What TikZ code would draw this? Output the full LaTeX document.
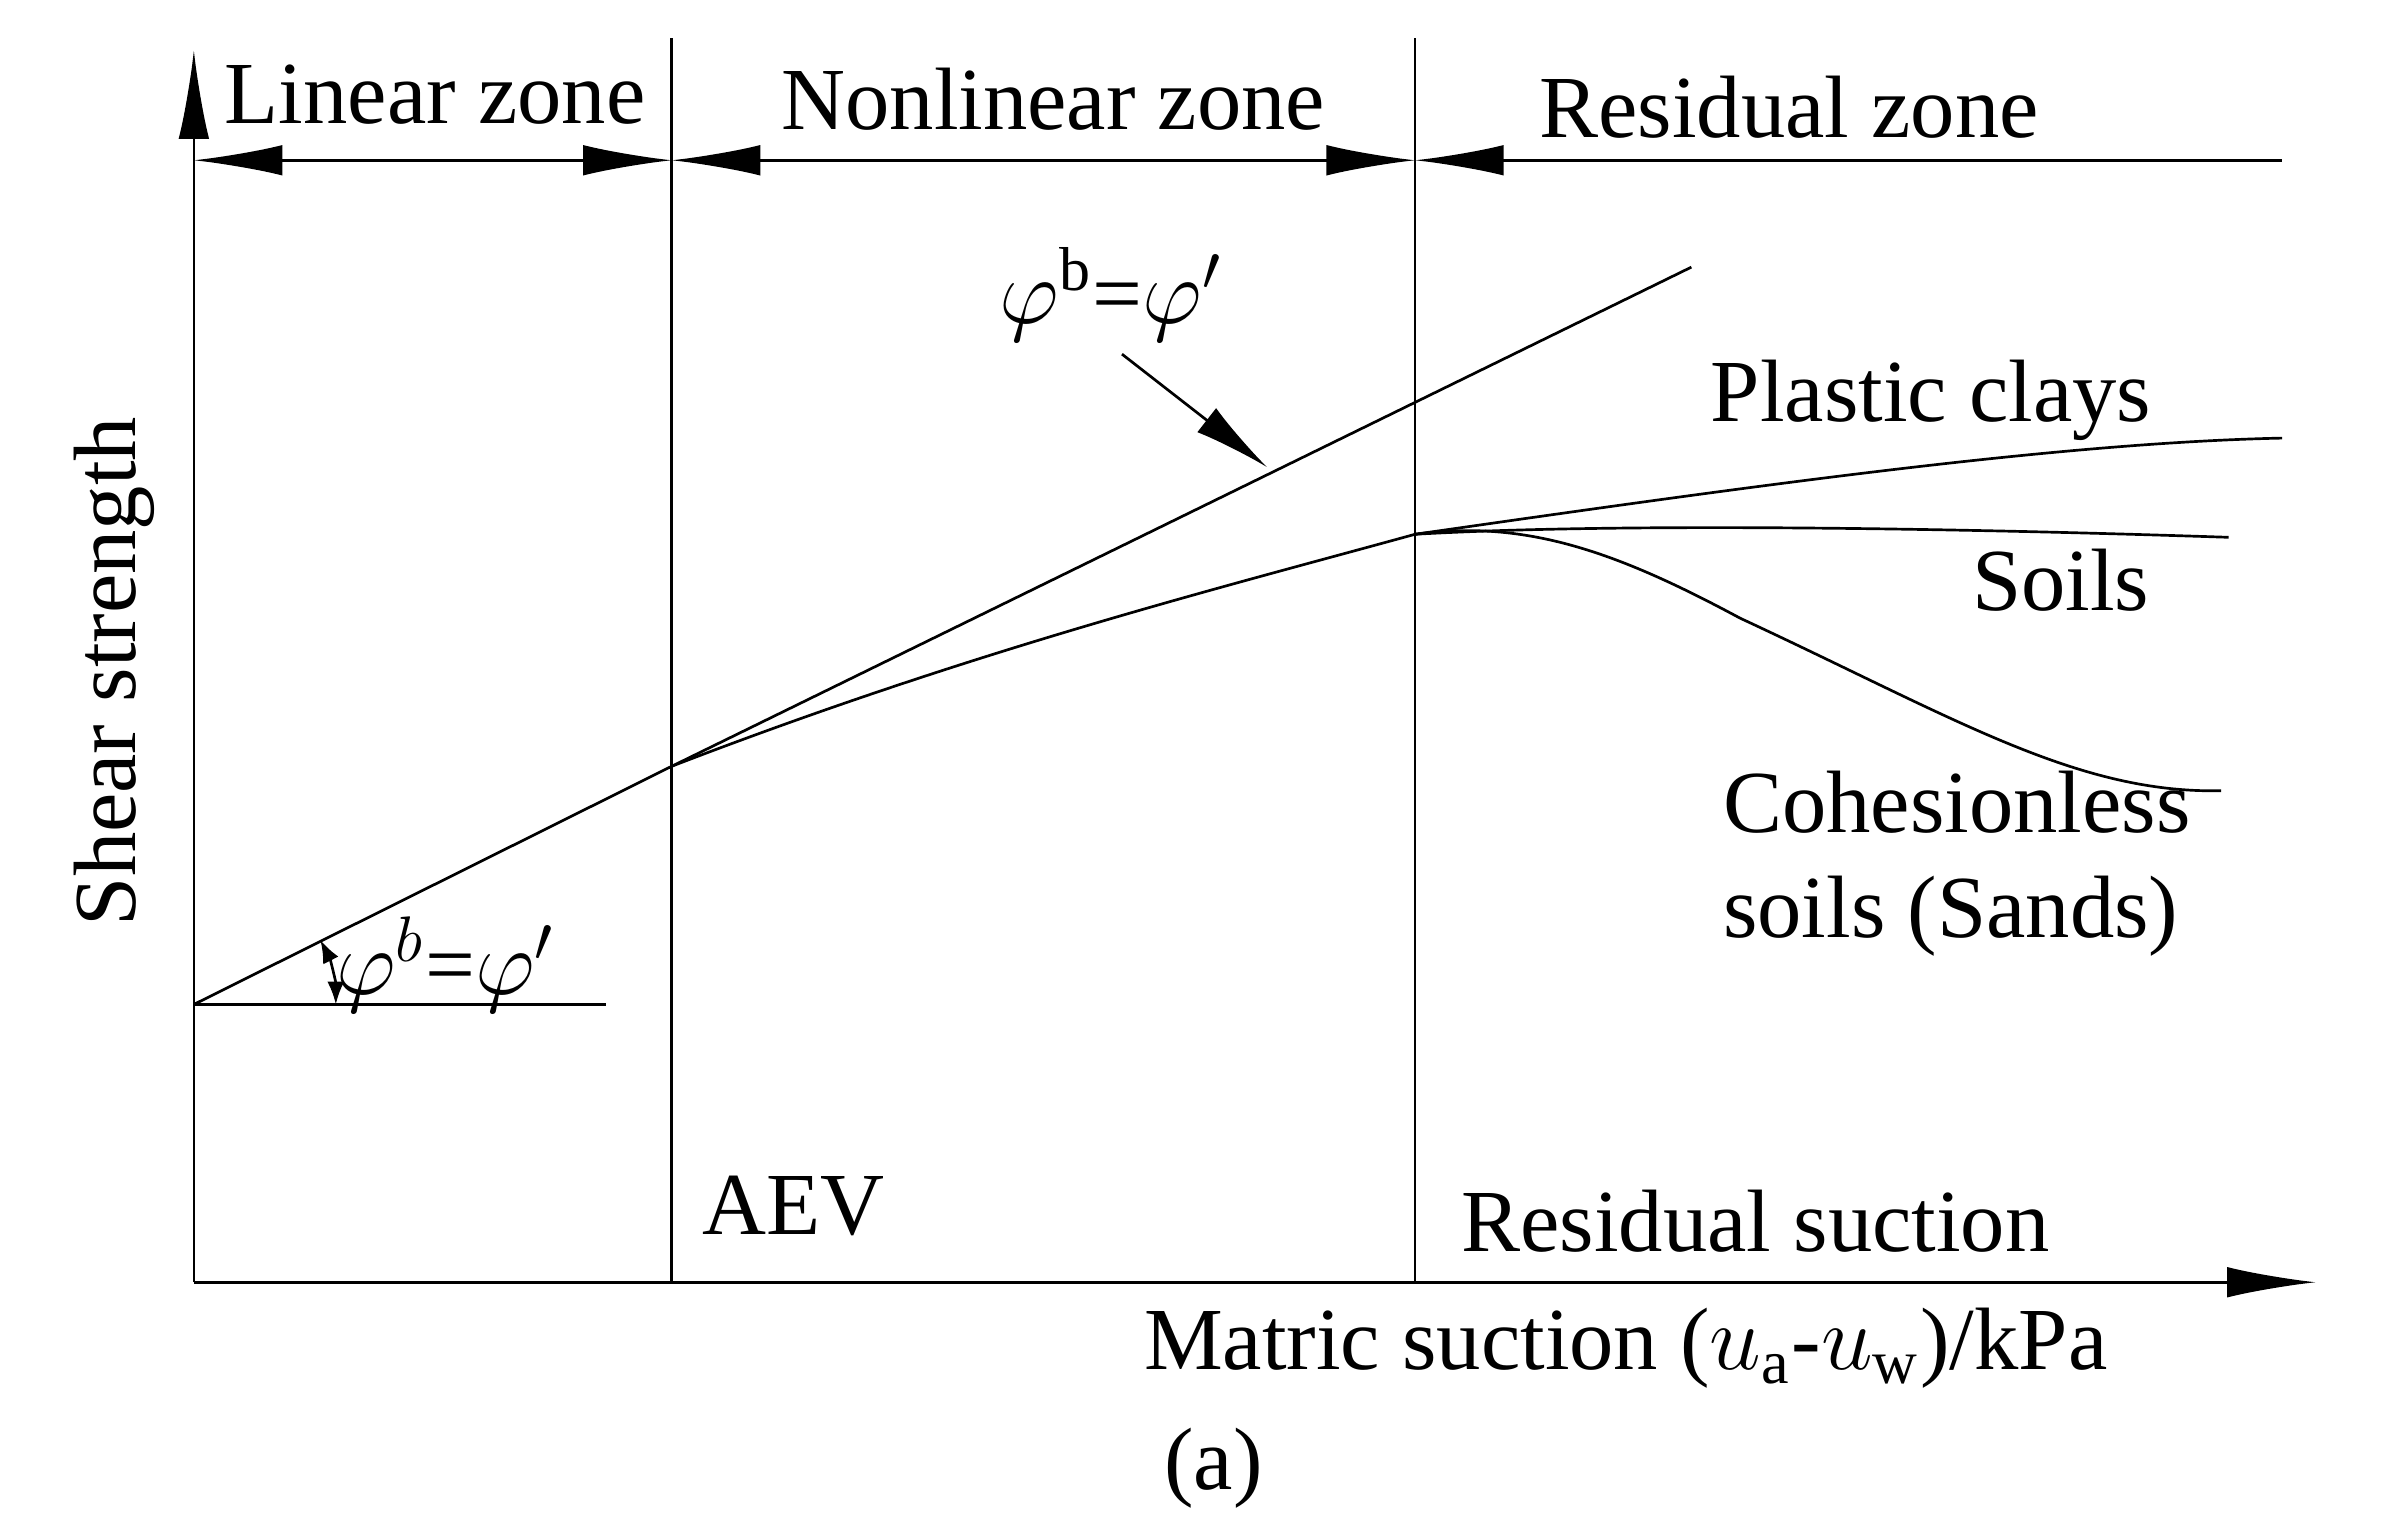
\documentclass[tikz,border=0pt]{standalone}
\usepackage{fontspec}
\setmainfont{Liberation Serif}
\usetikzlibrary{arrows.meta}
\tikzset{
  lbl/.style={font=\fontsize{16.5}{19.5}\selectfont, inner sep=0pt},
  tip/.style={-{Latex[length=5.8mm,width=2mm]}},
  dimline/.style={{Latex[length=5.8mm,width=2mm]}-{Latex[length=5.8mm,width=2mm]}}
}
\begin{document}
\begin{tikzpicture}[x=0.01cm,y=-0.01cm,line width=0.5pt]
	\useasboundingbox (0,0) rectangle (1567,1002.3);

	%Axes
	\coordinate (O) at (127,840);
	\coordinate (ytop) at (127,33);
	\coordinate (xend) at (1517,840);
	\draw[tip] (O) -- (ytop);
	\draw[tip] (O) -- (xend);

	%Zone borders
	\coordinate (aev) at (440,840);
	\coordinate (aevtop) at (440,25);
	\coordinate (res) at (927,840);
	\coordinate (restop) at (927,25);
	\draw (aev) -- (aevtop);
	\draw (res) -- (restop);

	%Zone dimension lines
	\coordinate (d0) at (127,105);
	\coordinate (d1) at (440,105);
	\coordinate (d2) at (927,105);
	\coordinate (d3) at (1495,105);
	\draw[dimline] (d0) -- (d1);
	\draw[dimline] (d1) -- (d2);
	\draw[{Latex[length=5.8mm,width=2mm]}-] (d2) -- (d3);
	\node[lbl] (linz) at (285,62) {Linear zone};
	\node[lbl] (nonz) at (690,65) {Nonlinear zone};
	\node[lbl] (resz) at (1172,70) {Residual zone};

	%Envelope
	\coordinate (c0) at (127,658);
	\coordinate (pa) at (440,502);
	\coordinate (pend) at (1108,175);
	\coordinate (hz) at (397,658);
	\coordinate (pr) at (927,350);
	\draw (c0) -- (pa) -- (pend);
	\draw (c0) -- (hz);
	\draw[{Latex[length=1.5mm]}-{Latex[length=1.5mm]}] (220,658) arc[start angle=0, end angle=-27, radius=93];
	\node[lbl] (ang) at (292,632) {$\varphi^{b}$=$\varphi'$};

	%Nonlinear part
	\draw (pa) .. controls (640,425) and (800,385) .. (pr);

	%Residual curves
	\draw (pr) .. controls (1150,318) and (1350,290) .. (1495,287);
	\draw (pr) .. controls (1050,343) and (1250,345) .. (1460,352);
	\draw (pr) .. controls (1000,340) and (1060,362) .. (1140,405)
	      .. controls (1280,470) and (1360,520) .. (1455,518);

	%Slope label
	\node[lbl] (slope) at (728,193) {$\varphi$\textsuperscript{b}=$\varphi'$};
	\coordinate (slopetip) at (830,306);
	\draw[-{Latex[length=5mm,width=2mm]}] (735,232) -- (slopetip);

	%Labels
	\node[lbl] (pc) at (1265,262) {Plastic clays};
	\node[lbl] (so) at (1350,380) {Soils};
	\node[lbl, align=left] (cs) at (1282,566) {Cohesionless\\soils (Sands)};
	\node[lbl] (aevl) at (520,790) {AEV};
	\node[lbl] (rsl) at (1150,800) {Residual suction};
	\node[lbl] (xl) at (1065,883) {Matric suction ($u$\textsubscript{a}-$u$\textsubscript{w})/kPa};
	\node[lbl, rotate=90] (yl) at (75,440) {Shear strength};
	\node[lbl] (cap) at (795,962) {(a)};
\end{tikzpicture}
\end{document}
